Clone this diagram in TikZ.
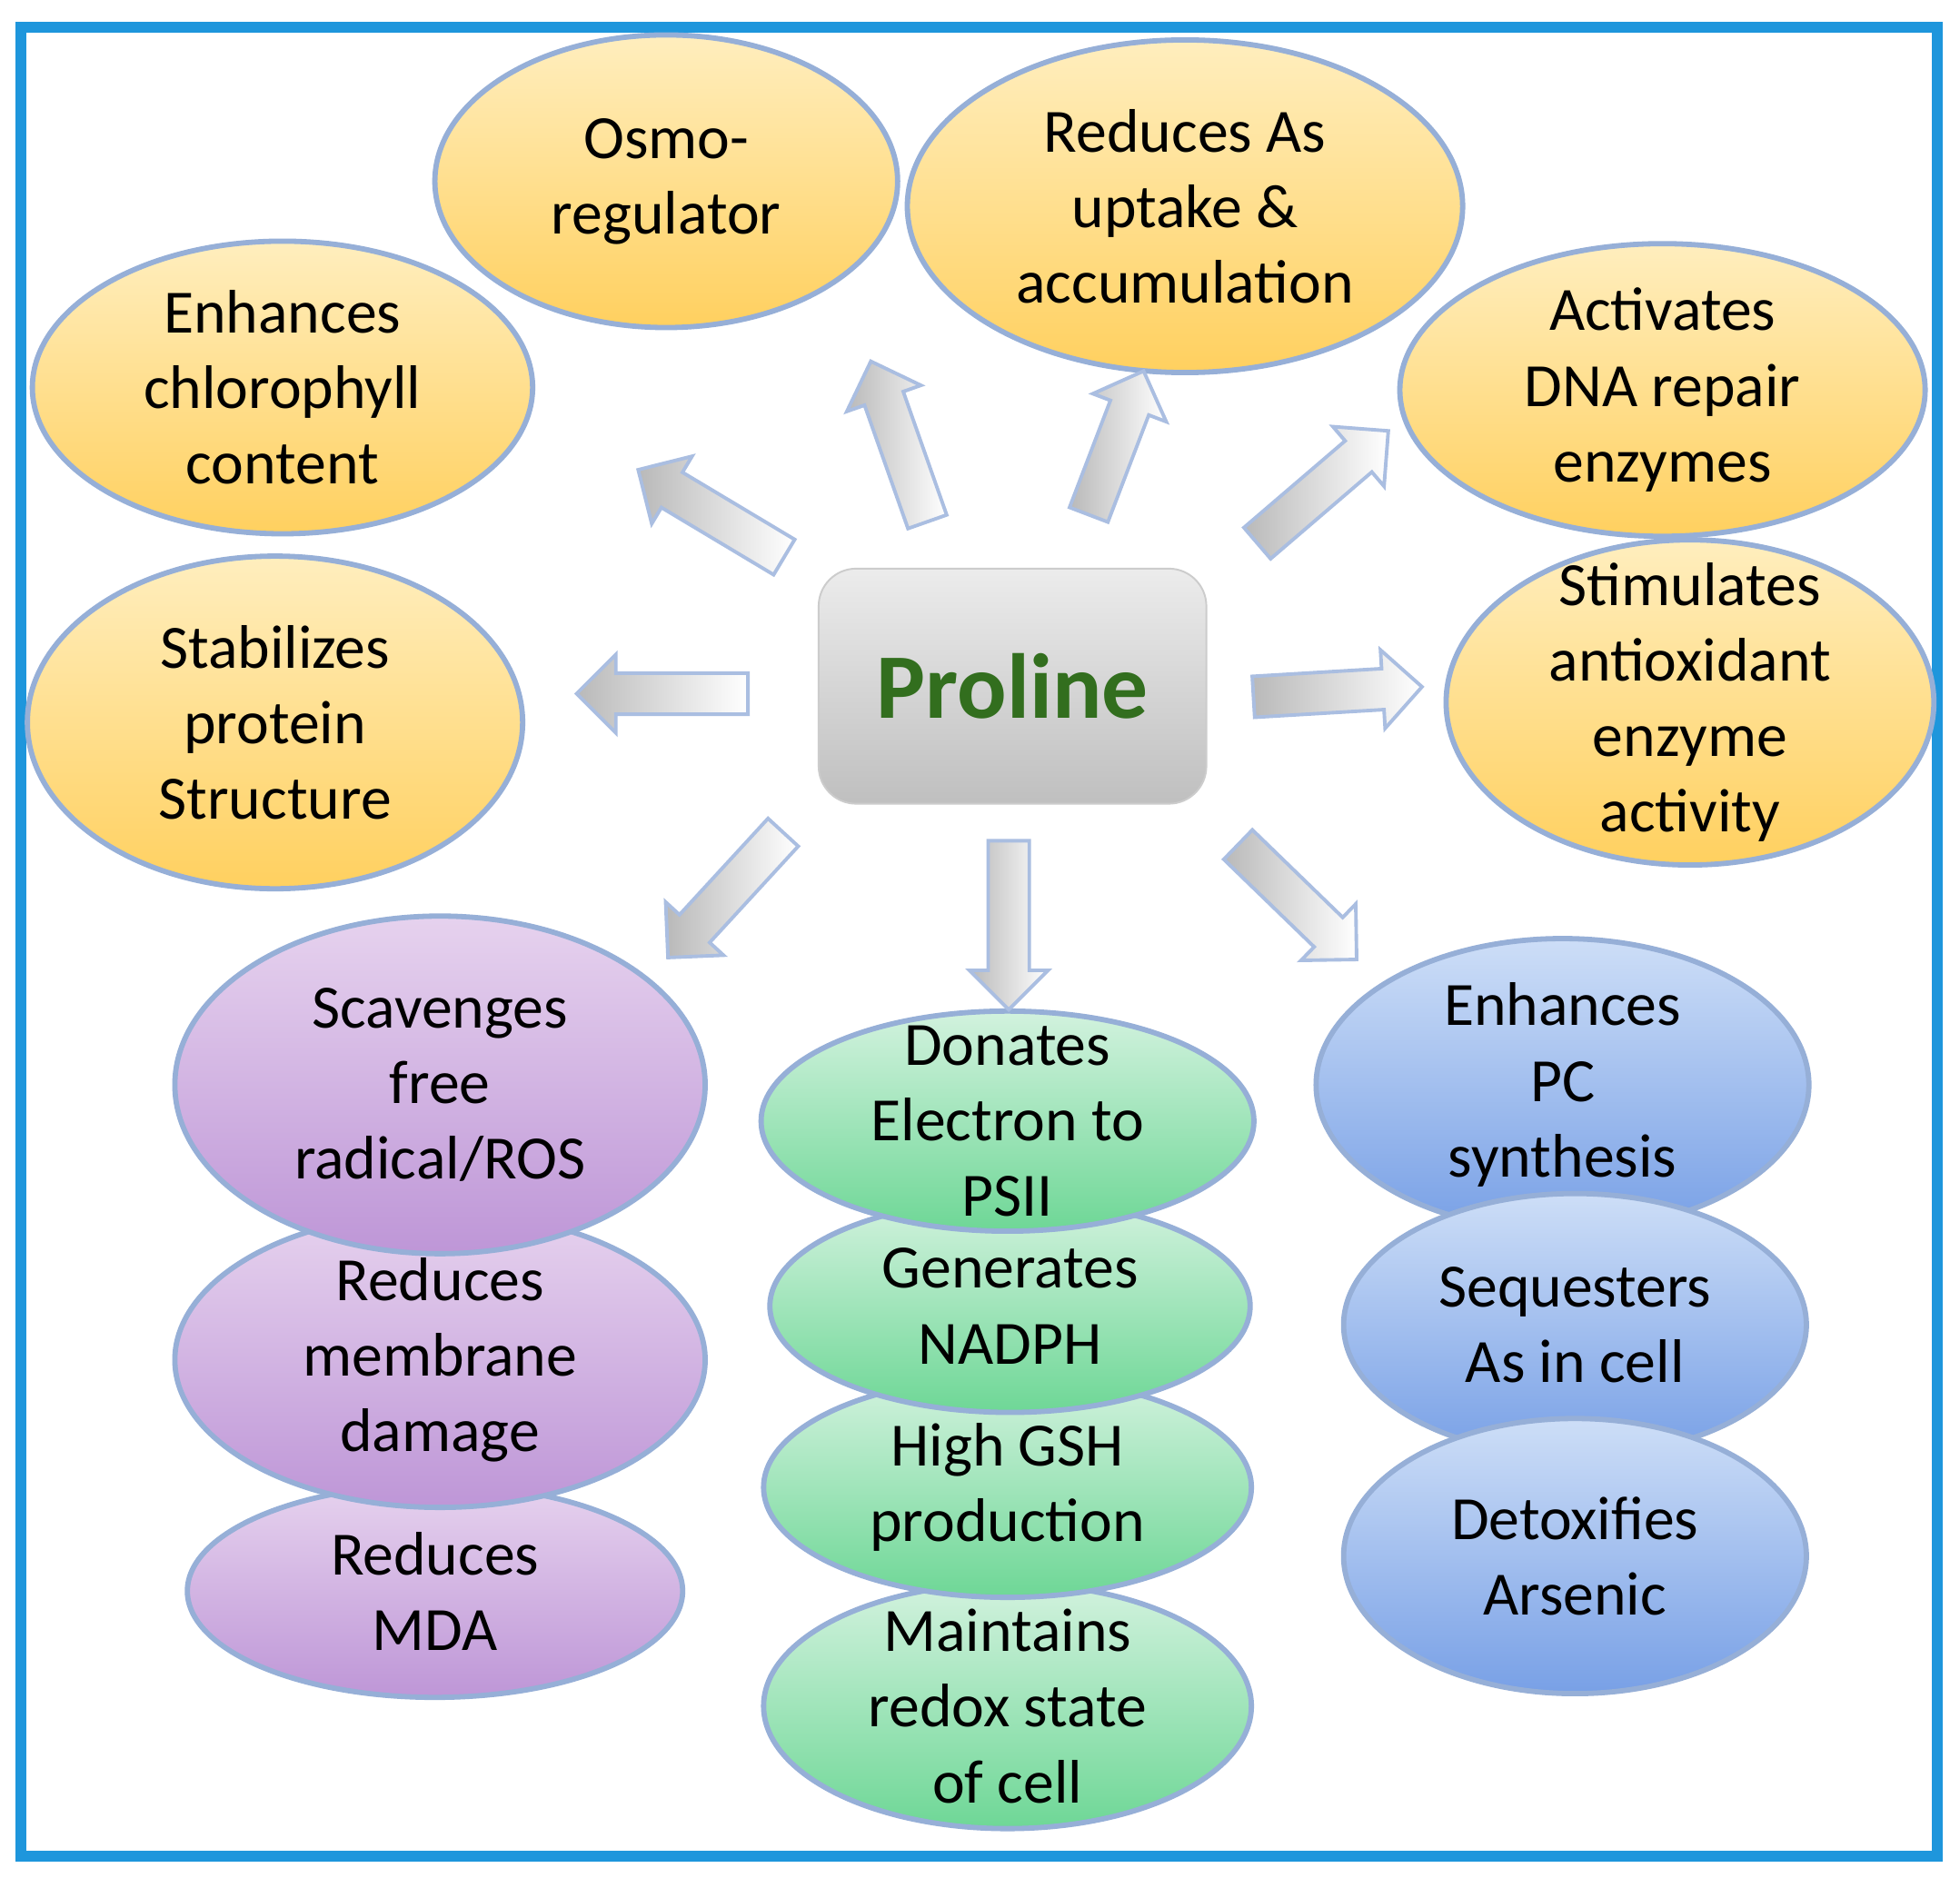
\documentclass[tikz,border=0pt]{standalone}
\usepackage{fontspec}
\setmainfont{Carlito}
\usetikzlibrary{shapes.geometric,shapes.arrows}
\definecolor{frame}{RGB}{30,150,220}
\definecolor{edge}{RGB}{150,175,215}
\definecolor{progreen}{RGB}{50,110,30}
\tikzset{
 el/.style={ellipse,draw=edge,line width=1.2pt,inner sep=-8pt,align=center,
   font=\fontsize{14}{17.2}\selectfont},
 yel/.style={el,top color={rgb,255:red,255;green,238;blue,190},bottom color={rgb,255:red,255;green,208;blue,95}},
 pur/.style={el,top color={rgb,255:red,230;green,210;blue,238},bottom color={rgb,255:red,190;green,150;blue,215}},
 grn/.style={el,top color={rgb,255:red,210;green,242;blue,222},bottom color={rgb,255:red,110;green,215;blue,150}},
 blu/.style={el,top color={rgb,255:red,205;green,222;blue,247},bottom color={rgb,255:red,120;green,160;blue,230}},
 big/.style={single arrow,draw={rgb,255:red,170;green,190;blue,225},line width=0.8pt,
   left color=gray!55,right color=white,inner xsep=0pt,inner ysep=0.15cm,
   single arrow head extend=0.15cm,single arrow head indent=0pt}
}
\begin{document}
\begin{tikzpicture}[x=0.01cm,y=-0.01cm]
\useasboundingbox (0,0) rectangle (1568,1502);
\fill[white] (0,0) rectangle (1568,1502);
\draw[frame,line width=2.5pt] (17,22) rectangle (1550,1485);
% yellow
\node[yel,minimum width=3.7cm,minimum height=2.34cm] (osmo) at (533,145) {Osmo-\\regulator};
\node[yel,minimum width=4.44cm,minimum height=2.66cm] (as) at (948,165) {Reduces As\\uptake \&\\accumulation};
\node[yel,minimum width=4.0cm,minimum height=2.34cm] (chl) at (226,310) {Enhances\\chlorophyll\\content};
\node[yel,minimum width=4.2cm,minimum height=2.34cm] (dna) at (1330,312) {Activates\\DNA repair\\enzymes};
\node[yel,minimum width=3.96cm,minimum height=2.66cm] (stab) at (220,578) {Stabilizes\\protein\\Structure};
\node[yel,minimum width=3.9cm,minimum height=2.6cm] (stim) at (1352,562) {Stimulates\\antioxidant\\enzyme\\activity};
% purple
\node[pur,minimum width=3.96cm,minimum height=1.7cm] (mda) at (348,1273) {Reduces\\MDA};
\node[pur,minimum width=4.24cm,minimum height=2.36cm] (mem) at (352,1088) {Reduces\\membrane\\damage};
\node[pur,minimum width=4.24cm,minimum height=2.7cm] (ros) at (352,868) {Scavenges\\free\\radical/ROS};
% green
\node[grn,minimum width=3.9cm,minimum height=1.96cm] (red) at (806,1365) {Maintains\\redox state\\of cell};
\node[grn,minimum width=3.9cm,minimum height=1.76cm] (gsh) at (806,1190) {High GSH\\production};
\node[grn,minimum width=3.84cm,minimum height=1.7cm] (nadph) at (808,1045) {Generates\\NADPH};
\node[grn,minimum width=3.94cm,minimum height=1.76cm] (don) at (806,897) {Donates\\Electron to\\PSII};
% blue
\node[blu,minimum width=3.94cm,minimum height=2.34cm] (pc) at (1250,868) {Enhances\\PC\\synthesis};
\node[blu,minimum width=3.7cm,minimum height=2.1cm] (seq) at (1260,1060) {Sequesters\\As in cell};
\node[blu,minimum width=3.7cm,minimum height=2.2cm] (det) at (1260,1245) {Detoxifies\\Arsenic};
% center
\node[rounded corners=0.3cm,draw=gray!40,minimum width=3.1cm,minimum height=1.88cm,
  top color=gray!15,bottom color=gray!50,font=\fontsize{21}{25}\selectfont\bfseries,text=progreen]
  (pro) at (810,549) {Proline};
% arrows
\node[big,rotate=149.1,minimum height=1.36cm] (a1) at (576,415) {};
\node[big,rotate=109.4,minimum height=1.36cm] (a2) at (722,361) {};
\node[big,rotate=69.1,minimum height=1.23cm] (a3) at (890,362) {};
\node[big,rotate=40.6,minimum height=1.38cm] (a4) at (1052,395) {};
\node[big,rotate=180,minimum height=1.37cm] (a5) at (538,555) {};
\node[big,rotate=3.4,minimum height=1.35cm] (a6) at (1062,554) {};
\node[big,rotate=227.4,minimum height=1.36cm] (a7) at (586,710) {};
\node[big,rotate=270,minimum height=1.35cm] (a8) at (807,732) {};
\node[big,rotate=-44.1,minimum height=1.32cm] (a9) at (1032,716) {};
\end{tikzpicture}
\end{document}
